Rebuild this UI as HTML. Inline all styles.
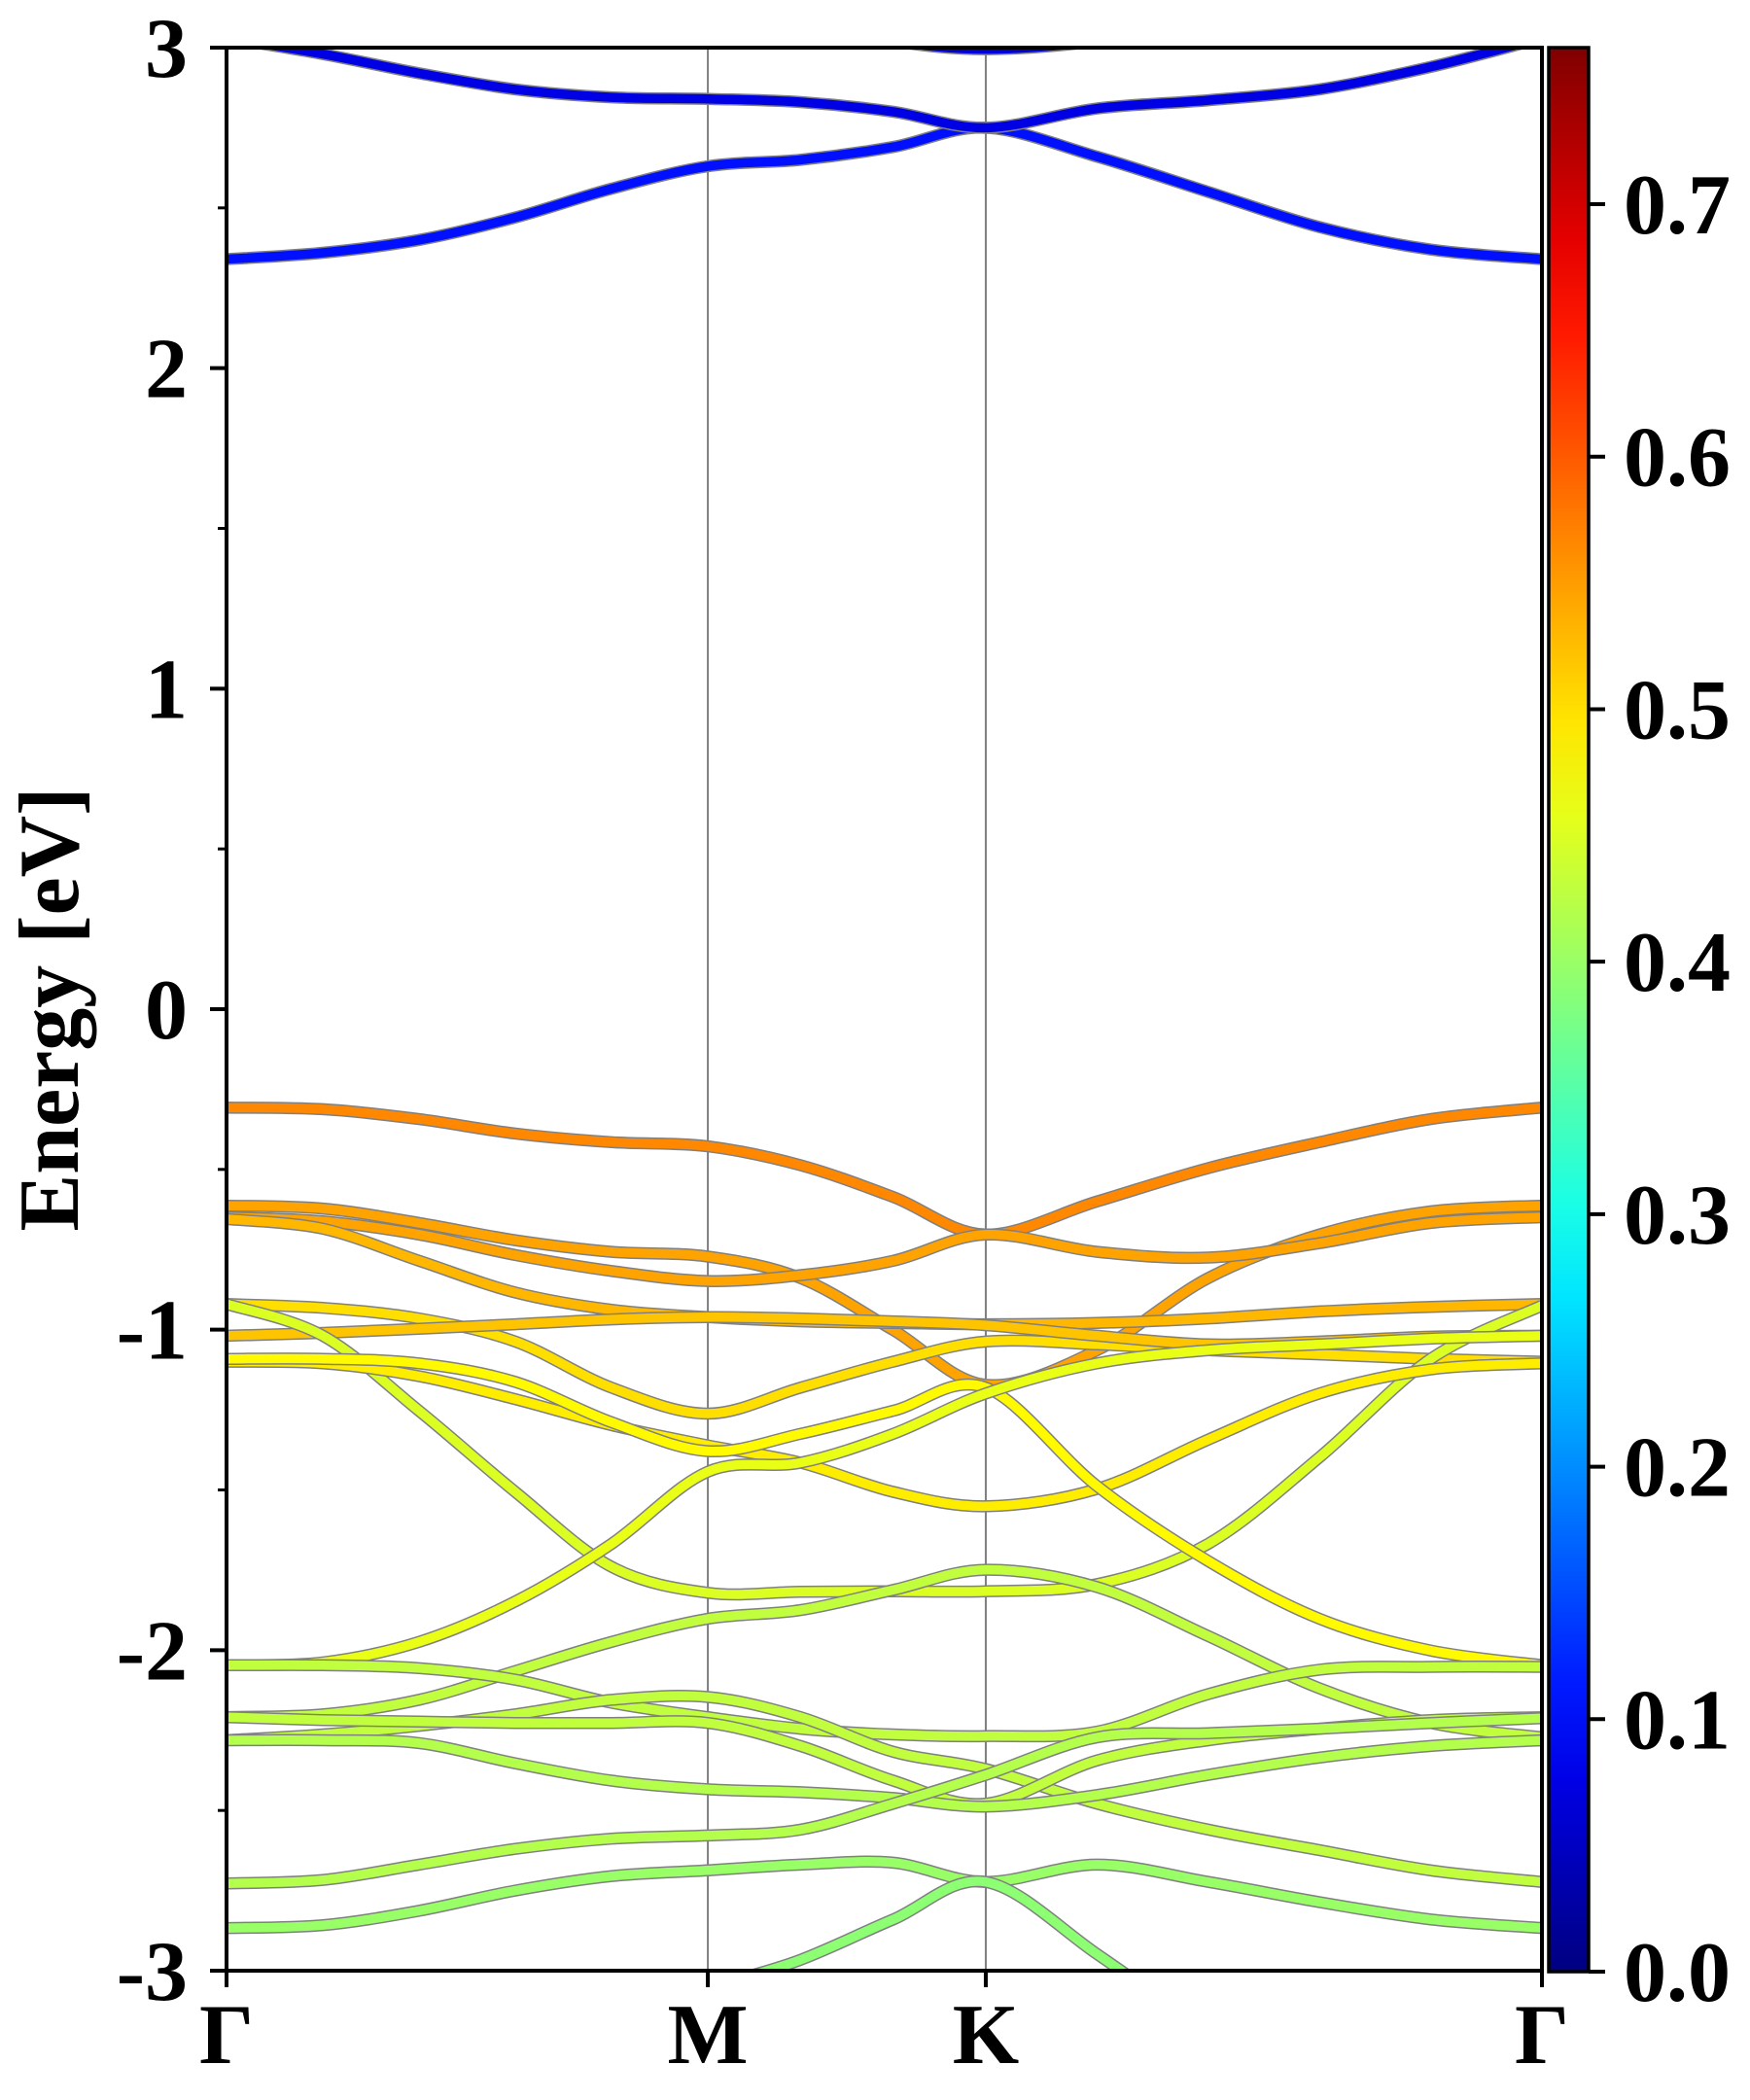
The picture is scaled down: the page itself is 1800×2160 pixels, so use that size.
<!DOCTYPE html>
<html><head><meta charset="utf-8"><style>
html,body{margin:0;padding:0;background:#fff;width:1800px;height:2160px;overflow:hidden;}
svg{display:block;}
text{font-family:"Liberation Serif","Times New Roman",serif;font-weight:bold;fill:#000;}
</style></head><body>
<svg id="chart" width="1800" height="2160" viewBox="0 0 1800 2160" xmlns="http://www.w3.org/2000/svg">
<defs>
<clipPath id="plotClip"><rect x="233" y="49" width="1353" height="1979"/></clipPath>
<linearGradient id="jetGrad" x1="0" y1="1" x2="0" y2="0"></linearGradient>
</defs>
<g id="bands" clip-path="url(#plotClip)"></g>
<g id="axes"></g>
<g id="cbar"></g>
</svg>
<script>
// ---- data ----
const kLabels = ["Γ","M","K","Γ"];
const kTicks = [0, 0.3659, 0.5772, 1.0];
const yTicks = [-3,-2,-1,0,1,2,3];
const yMinor = [-2.5,-1.5,-0.5,0.5,1.5,2.5];
const cbTicks = [0.0,0.1,0.2,0.3,0.4,0.5,0.6,0.7];
const cbMax = 0.762;
// energies on 14 k-points: 6 on Γ-M, 3 more on M-K, 5 more on K-Γ
const bandC1 = [2.34,2.36,2.40,2.47,2.56,2.63,2.65,2.69,2.75,2.66,2.55,2.44,2.37,2.34];
const bandC2 = [3.03,2.98,2.92,2.87,2.845,2.84,2.83,2.80,2.75,2.81,2.836,2.87,2.94,3.03];
const bandC3 = [3.6,3.5,3.4,3.3,3.25,3.2,3.08,3.02,2.995,3.02,3.08,3.2,3.35,3.5];
const bandA = [-0.307,-0.312,-0.343,-0.388,-0.415,-0.428,-0.487,-0.586,-0.703,-0.600,-0.496,-0.415,-0.343,-0.307];
const bandB = [-0.613,-0.622,-0.667,-0.721,-0.757,-0.772,-0.839,-1.001,-1.172,-1.064,-0.839,-0.703,-0.631,-0.613];
const bandC = [-0.649,-0.662,-0.703,-0.767,-0.817,-0.848,-0.830,-0.785,-0.703,-0.757,-0.775,-0.730,-0.667,-0.649];
const bandD = [-0.655,-0.685,-0.785,-0.884,-0.938,-0.961,-0.974,-0.979,-0.983,-0.979,-0.965,-0.943,-0.929,-0.920];
const bandE = [-0.920,-0.932,-0.965,-1.037,-1.181,-1.262,-1.181,-1.100,-1.037,-1.046,-1.064,-1.077,-1.091,-1.100];
const bandF = [-1.019,-1.010,-0.997,-0.983,-0.968,-0.961,-0.965,-0.974,-0.986,-1.019,-1.046,-1.037,-1.022,-1.019];
const bandG = [-0.920,-1.019,-1.253,-1.506,-1.740,-1.821,-1.818,-1.816,-1.816,-1.794,-1.668,-1.398,-1.091,-0.925];
const bandH = [-1.100,-1.105,-1.145,-1.217,-1.298,-1.361,-1.415,-1.506,-1.551,-1.497,-1.343,-1.199,-1.124,-1.105];
const bandI = [-1.091,-1.091,-1.105,-1.163,-1.289,-1.379,-1.325,-1.253,-1.181,-1.488,-1.722,-1.902,-2.001,-2.047];
const bandJ = [-2.047,-2.038,-1.974,-1.848,-1.668,-1.443,-1.415,-1.325,-1.199,-1.105,-1.064,-1.046,-1.028,-1.019];
const bandK = [-2.209,-2.200,-2.155,-2.065,-1.974,-1.902,-1.875,-1.812,-1.749,-1.803,-1.956,-2.119,-2.227,-2.272];
const bandL = [-2.047,-2.047,-2.056,-2.092,-2.164,-2.209,-2.245,-2.263,-2.268,-2.254,-2.137,-2.061,-2.052,-2.052];
const bandM = [-2.281,-2.263,-2.236,-2.200,-2.155,-2.146,-2.209,-2.317,-2.371,-2.479,-2.560,-2.624,-2.687,-2.723];
const bandN = [-2.209,-2.218,-2.223,-2.227,-2.227,-2.227,-2.299,-2.407,-2.479,-2.344,-2.281,-2.245,-2.218,-2.209];
const bandO = [-2.281,-2.281,-2.290,-2.353,-2.407,-2.434,-2.443,-2.461,-2.488,-2.452,-2.389,-2.335,-2.299,-2.281];
const bandP = [-2.728,-2.717,-2.669,-2.620,-2.588,-2.578,-2.560,-2.479,-2.389,-2.272,-2.259,-2.245,-2.227,-2.212];
const bandQ = [-2.867,-2.858,-2.813,-2.750,-2.705,-2.687,-2.669,-2.663,-2.723,-2.669,-2.723,-2.786,-2.840,-2.867];
const bandR = [-4.0,-3.8,-3.6,-3.4,-3.2,-3.06,-2.966,-2.840,-2.723,-2.948,-3.2,-3.5,-3.7,-3.9];
const bandWeights = [0.107,0.076,0.07,0.565,0.545,0.545,0.53,0.50,0.52,0.45,0.49,0.48,0.46,0.43,0.43,0.43,0.43,0.42,0.42,0.40,0.39];
const bandNames = ["C1","C2","C3","A","B","C","D","E","F","G","H","I","J","K","L","M","N","O","P","Q","R"];
const bandList = [bandC1,bandC2,bandC3,bandA,bandB,bandC,bandD,bandE,bandF,bandG,bandH,bandI,bandJ,bandK,bandL,bandM,bandN,bandO,bandP,bandQ,bandR];

// ---- scales ----
const X0=233, X1=1586, Y0=49, Y1=2027;
const xs = k => X0 + k*(X1-X0);
const ys = e => Y0 + (3-e)/6*(Y1-Y0);
const cbY = v => 2028 - v/cbMax*(2028-49);
const NS = "http://www.w3.org/2000/svg";
const FONT = '"Liberation Serif", "Times New Roman", serif';
function mk(tag, attrs, parent){const el=document.createElementNS(NS,tag);for(const a in attrs)el.setAttribute(a,attrs[a]);parent.appendChild(el);return el;}
function jet(t){const c=v=>Math.round(255*Math.max(0,Math.min(1,v)));return `rgb(${c(1.5-Math.abs(4*t-3))},${c(1.5-Math.abs(4*t-2))},${c(1.5-Math.abs(4*t-1))})`;}

// k grid: subdivide segments (5,3,5)
const segDiv=[5,3,5];
const kGrid=[kTicks[0]];
for(let s=0;s<3;s++){for(let i=1;i<=segDiv[s];i++)kGrid.push(kTicks[s]+(kTicks[s+1]-kTicks[s])*i/segDiv[s]);}

function pathFor(vals){
  const p=vals.map((e,i)=>[xs(kGrid[i]),ys(e)]);
  let d=`M${p[0][0].toFixed(1)},${p[0][1].toFixed(1)}`;
  for(let i=0;i<p.length-1;i++){
    const p0=p[Math.max(0,i-1)],p1=p[i],p2=p[i+1],p3=p[Math.min(p.length-1,i+2)];
    const c1=[p1[0]+(p2[0]-p0[0])/6,p1[1]+(p2[1]-p0[1])/6];
    const c2=[p2[0]-(p3[0]-p1[0])/6,p2[1]-(p3[1]-p1[1])/6];
    d+=`C${c1[0].toFixed(1)},${c1[1].toFixed(1)} ${c2[0].toFixed(1)},${c2[1].toFixed(1)} ${p2[0].toFixed(1)},${p2[1].toFixed(1)}`;
  }
  return d;
}

const gB=document.getElementById('bands');
[1,2].forEach(i=>{
  const l=mk('line',{x1:xs(kTicks[i]),x2:xs(kTicks[i]),y1:Y0,y2:Y1,stroke:'#7f7f7f','stroke-width':2},gB);
  
  
});
bandList.forEach((vals,bi)=>{
  const d=pathFor(vals);
  const g=mk('g',{},gB);
  
  
  mk('path',{d:d,fill:'none',stroke:'#808080','stroke-width':12.5},g);
  mk('path',{d:d,fill:'none',stroke:jet(bandWeights[bi]/cbMax),'stroke-width':9.5},g);
});

// axes
const gA=document.getElementById('axes');
const fr=mk('rect',{x:X0,y:Y0,width:X1-X0,height:Y1-Y0,fill:'none',stroke:'#000','stroke-width':4},gA);


yTicks.forEach(v=>{
  const y=ys(v);
  mk('line',{x1:X0-17,x2:X0,y1:y,y2:y,stroke:'#000','stroke-width':4},gA);
  const t=mk('text',{x:193,y:y+30,'text-anchor':'end','font-size':88,'font-family':FONT,'font-weight':'bold'},gA);
  t.textContent=String(v);
  
  
});
yMinor.forEach(v=>{const y=ys(v);mk('line',{x1:X0-9,x2:X0,y1:y,y2:y,stroke:'#000','stroke-width':3},gA);});
kTicks.forEach((k,i)=>{
  const x=xs(k);
  mk('line',{x1:x,x2:x,y1:Y1,y2:Y1+17,stroke:'#000','stroke-width':4},gA);
  const t=mk('text',{x:x,y:2122,'text-anchor':'middle','font-size':88,'font-family':FONT,'font-weight':'bold'},gA);
  t.textContent=kLabels[i];
  
  
});
const yl=mk('text',{x:80,y:1038,'text-anchor':'middle','font-size':88,'font-family':FONT,'font-weight':'bold',transform:'rotate(-90 80 1038)'},gA);
yl.textContent='Energy [eV]';



// colorbar
const grad=document.getElementById('jetGrad');
for(let i=0;i<=20;i++){mk('stop',{offset:(i/20),'stop-color':jet(i/20)},grad);}
const gC=document.getElementById('cbar');
const cb=mk('rect',{x:1593,y:49,width:41,height:1979,fill:'url(#jetGrad)',stroke:'#000','stroke-width':3.5},gC);


cbTicks.forEach(v=>{
  const y=cbY(v);
  mk('line',{x1:1634,x2:1651,y1:y,y2:y,stroke:'#000','stroke-width':4},gC);
  const t=mk('text',{x:1670,y:y+30,'font-size':88,'font-family':FONT,'font-weight':'bold'},gC);
  t.textContent=v.toFixed(1);
  
  
});
</script>
</body></html>
